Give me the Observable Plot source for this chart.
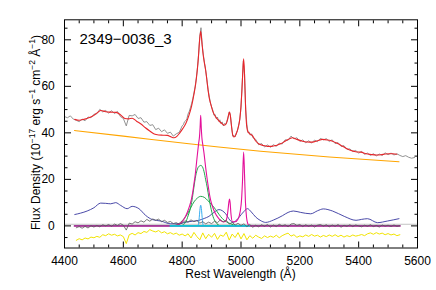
<!DOCTYPE html>
<html><head><meta charset="utf-8">
<script src="https://cdn.jsdelivr.net/npm/d3@7"></script>
<script src="https://cdn.jsdelivr.net/npm/@observablehq/plot@0.6"></script>
<style>body{margin:0;background:#fff} svg{font-family:"Liberation Sans",Arial,sans-serif}</style>
</head><body><div id="chart"></div>
<script>
// ---- data ----
const title = "2349−0036_3";
const xMajor = [4400, 4600, 4800, 5000, 5200, 5400, 5600];
const xMinor = [4450,4500,4550,4650,4700,4750,4850,4900,4950,5050,5100,5150,5250,5300,5350,5450,5500,5550];
const yMajor = [0, 20, 40, 60, 80];
const yMinor = [-5,5,10,15,25,30,35,45,50,55,65,70,75,85];

// observed spectrum (three sampling segments)
const specA = {start: 4400, step: 10, flux: [47.0,46.5,47.3,45.9,45.4,44.8,45.9,45.2,46.8,46.5,48.0,48.2,50.1,49.0,49.6,48.5,49.5,48.3,49.2,47.0,46.2,43.0,47.5,47.3,47.9,46.2,46.5,44.6,44.8,43.2,43.5,41.4,42.0,40.5,41.3,39.8,40.3,38.6,39.6,40.2]};
const specB = {start: 4800, step: 4, flux: [43.0,43.5,44.8,45.2,46.0,48.1,49.2,50.8,52.5,54.6,57.2,59.8,63.5,68.0,74.0,81.5,85.2,78.0,73.5,70.0,66.8,63.0,58.6,55.8,52.8,51.2,49.8,47.6,47.9,46.2,46.8,45.0,45.6,44.0,44.7,43.0,44.0,43.6,45.0,46.8,49.0,47.5,42.8,38.6,38.9,38.3,40.0,41.0,43.3,45.8,51.0,61.0,71.0,65.5,50.0,43.5,40.0,40.3,39.0,39.6]};
const specC = {start: 5040, step: 10, flux: [38.0,37.2,34.9,35.4,33.9,34.8,33.8,34.9,34.2,35.6,35.2,37.0,36.8,38.6,37.4,37.9,36.3,37.0,35.7,36.6,35.6,36.9,36.2,37.6,37.0,37.5,36.3,37.0,35.4,35.8,34.2,34.5,32.9,33.1,32.0,32.4,31.3,32.0,30.8,31.3,30.3,31.0,30.1,30.9,30.3,31.4,30.6,31.3,30.5,31.0,30.3,29.8,30.2,29.5,29.1,29.4]};

// total model
const fitLambda = [4435,4450,4466,4485,4500,4512,4524,4540,4557,4575,4590,4605,4618,4630,4645,4660,4675,4690,4705,4720,4735,4750,4762,4772,4782,4792,4802,4812,4823,4832,4840,4846,4851,4855,4859,4863,4867,4871,4875,4880,4886,4892,4897,4905,4914,4924,4935,4943,4950,4955,4958,4961,4964,4968,4972,4976,4983,4990,4996,5000,5003,5006,5009,5012,5015,5018,5022,5028,5038,5050,5060,5075,5090,5105,5120,5135,5150,5165,5175,5190,5209,5225,5243,5260,5277,5295,5311,5325,5340,5357,5374,5390,5408,5425,5442,5460,5476,5490,5504,5516,5530];
const fitFlux = [45.8,45.4,45.8,46.6,47.5,48.7,49.6,49.1,48.9,48.8,47.8,46.2,46.0,46.3,45.0,43.8,42.2,40.8,39.5,39.1,39.0,38.9,38.3,37.9,38.5,40.0,41.8,43.9,47.5,51.5,56.5,61.1,66.5,72.0,79.5,83.7,79.0,74.0,70.5,66.8,60.5,55.0,52.5,49.0,46.8,45.3,44.0,43.3,44.0,46.0,47.8,48.9,47.2,42.5,39.0,38.2,39.3,42.0,46.0,51.5,58.0,66.0,71.8,65.0,53.0,45.0,41.0,39.8,38.9,36.5,35.3,34.6,34.2,34.2,34.6,35.3,36.4,37.5,37.9,37.2,36.4,36.1,36.0,36.6,37.2,36.9,36.4,35.6,34.6,33.4,32.4,31.9,31.7,31.0,30.7,30.5,30.6,30.9,31.0,31.0,30.8];

// power-law continuum
const contLambda = [4434, 4600, 4823, 4924, 5067, 5300, 5537];
const contFlux = [41.0, 38.6, 35.3, 33.9, 32.1, 29.6, 27.6];

// Fe II template
const feLambda = [4435,4455,4477,4500,4523,4540,4557,4574,4591,4613,4630,4653,4676,4699,4727,4761,4790,4812,4835,4857,4875,4891,4910,4925,4948,4962,4973,4985,5005,5022,5035,5050,5065,5084,5110,5141,5160,5178,5203,5237,5260,5280,5311,5351,5391,5410,5430,5464,5498,5537];
const feFlux = [4.9,5.5,6.4,7.8,9.8,9.7,9.5,10.0,8.8,7.4,8.4,7.4,4.5,2.7,2.1,0.9,0.9,1.6,2.0,2.4,3.2,4.1,6.0,7.0,5.2,2.5,1.5,2.5,5.5,7.4,6.0,3.8,2.4,1.5,2.5,4.4,5.8,6.4,5.8,5.2,6.5,7.3,6.4,4.1,2.4,2.8,3.1,1.4,2.1,3.1];

// emission line model (H-beta + [O III])
const lineLambda = [4435,4750,4765,4780,4790,4800,4809,4818,4825,4831,4836,4840,4844,4847,4852,4856,4859,4861,4863,4865,4867,4870,4874,4880,4884,4888,4893,4897,4904,4912,4924,4937,4946,4952,4956,4959,4961,4963,4966,4971,4980,4990,4997,5002,5005,5009,5012,5015,5019,5023,5027,5030,5540];
const lineFlux = [0,0,0.1,0.3,0.8,1.8,3.5,6.0,8.5,11.2,14.5,18.0,21.5,25.0,31.0,35.5,38.5,42.5,47.5,42.0,38.0,35.0,31.5,25.0,21.0,17.5,13.5,11.0,8.0,5.5,3.2,1.8,1.8,3.5,7.0,10.5,11.5,10.0,5.0,1.8,1.8,3.0,6.0,11.5,19.0,31.8,22.0,10.5,3.5,1.0,0.2,0,0];

// broad H-beta components
const broad1Lambda = [4795,4805,4812,4820,4829,4835,4840,4846,4852,4858,4863,4868,4874,4880,4885,4891,4897,4905,4914,4922,4932];
const broad1Flux = [0,0.6,1.6,4.3,8.1,12.3,16.7,21.5,24.5,25.7,26.0,25.6,23.5,19.8,16.7,12.0,8.1,4.0,1.6,0.5,0];
const broad2Lambda = [4760,4778,4795,4807,4818,4830,4840,4852,4863,4875,4888,4900,4914,4925,4937,4950,4965,4985];
const broad2Flux = [0,0.3,1.6,3.2,5.2,8.0,10.3,12.0,12.7,12.3,10.8,9.2,7.0,5.0,3.1,1.8,0.9,0];

// narrow H-beta
const narrowLambda = [4760,4853,4856,4858,4860,4863,4866,4868,4870,4873,5027];
const narrowFlux = [0,0,1.2,3.5,6.5,8.9,6.5,3.5,1.2,0,0];
const zeroCyanLambda = [4760, 5027];
const zeroCyanFlux = [0, 0];
const zeroPurpleLambda = [4434, 5540];
const zeroPurpleFlux = [0, 0];
const refLevel = [0.7];

// residuals and error spectrum (4440..5540, 10 A)
const residStart = 4440, residStep = 10;
const residFlux = [-0.8,-0.3,-1.0,-0.2,-0.9,0.1,-0.5,
 0.2,-0.4,0.5,0.0,0.6,-0.2,0.8,0.2,1.0,0.3,
 -1.8,
 1.2,0.8,1.8,1.3,2.2,1.6,2.8,2.0,3.0,
 2.4,2.9,1.8,2.4,1.5,1.9,1.0,1.4,0.7,1.3,
 2.2,1.6,2.6,1.8,2.3,1.2,1.8,0.9,1.6,1.0,
 2.0,1.4,2.6,1.7,2.4,0.8,1.5,0.4,1.1,0.2,
 0.9,-0.3,0.6,-0.6,0.3,-0.4,0.5,-0.2,0.6,-0.5,
 0.4,-0.3,0.7,0.0,0.5,-0.4,0.8,1.0,0.2,0.6,
 -0.3,0.5,-0.2,0.4,-0.5,0.3,0.6,-0.1,0.5,-0.4,
 0.4,-0.2,0.6,-0.6,0.3,-0.2,0.5,-0.3,0.4,0.0,
 -0.4,0.3,-0.2,0.5,-0.3,0.2,-0.5,0.4,-0.1,0.3,
 -0.3,0.4,-0.2,0.1];
const errFlux = [-6.2,-5.5,-6.0,-5.2,-5.6,-4.8,-5.1,
 -4.5,-4.9,-3.8,-4.2,-3.4,-4.0,-3.6,-4.3,-3.9,-4.6,
 -7.6,
 -3.8,-3.2,-3.9,-2.9,-3.3,-2.4,-2.8,-1.6,-2.2,
 -2.6,-2.0,-3.0,-2.5,-3.4,-2.9,-3.6,-3.1,-4.0,-3.5,
 -4.3,-3.4,-5.2,-2.8,-4.6,-6.0,-3.0,-5.5,-3.6,-4.9,
 -3.2,-5.8,-3.9,-4.5,-2.7,-6.1,-3.5,-5.0,-2.9,-5.6,
 -3.3,-6.0,-4.2,-5.3,-4.0,-4.8,-5.4,-4.3,-5.0,-4.4,
 -4.9,-4.0,-5.1,-4.2,-3.6,-3.1,-4.4,-3.8,-4.9,-4.3,
 -4.7,-3.9,-4.5,-3.7,-4.4,-4.0,-4.8,-4.1,-4.6,-3.9,
 -4.5,-3.8,-4.6,-4.0,-4.8,-4.2,-4.6,-3.9,-4.4,-4.1,
 -3.7,-4.2,-3.4,-3.0,-3.6,-2.9,-3.5,-3.1,-3.8,-3.3,
 -3.9,-3.5,-4.2,-3.8];

// ---- build tables ----
const pairs = (xs, ys) => xs.map((x, i) => ({x, y: ys[i]}));
const sampled = (s) => s.flux.map((y, i) => ({x: s.start + s.step * i, y}));
const spec = [...sampled(specA), ...sampled(specB), ...sampled(specC)];
const resid = sampled({start: residStart, step: residStep, flux: residFlux});
const err = sampled({start: residStart, step: residStep, flux: errFlux});
const smooth = "monotone-x";

const plot = Plot.plot({
  width: 436, height: 290,
  marginLeft: 64, marginRight: 19, marginTop: 19.3, marginBottom: 42.5,
  x: {domain: [4400, 5600]},
  y: {domain: [-9.5, 88.6]},
  style: {fontFamily: "Liberation Sans, Arial, sans-serif", fontSize: "12px", background: "#fff", color: "#000"},
  marks: [
    Plot.ruleY(refLevel, {stroke: "#c4c4c4", strokeWidth: 1}),
    Plot.line(spec, {x: "x", y: "y", stroke: "#787878", strokeWidth: 0.8}),
    Plot.line(pairs(fitLambda, fitFlux), {x: "x", y: "y", stroke: "#e8262b", strokeWidth: 1.1, curve: smooth}),
    Plot.line(pairs(contLambda, contFlux), {x: "x", y: "y", stroke: "#ffa500", strokeWidth: 1.1, curve: smooth}),
    Plot.line(pairs(feLambda, feFlux), {x: "x", y: "y", stroke: "#35359e", strokeWidth: 0.9, curve: smooth}),
    Plot.line(pairs(broad2Lambda, broad2Flux), {x: "x", y: "y", stroke: "#1fa64c", strokeWidth: 1, curve: smooth}),
    Plot.line(pairs(broad1Lambda, broad1Flux), {x: "x", y: "y", stroke: "#1fa64c", strokeWidth: 1, curve: smooth}),
    Plot.line(pairs(lineLambda, lineFlux), {x: "x", y: "y", stroke: "#e4109a", strokeWidth: 1.1, curve: smooth}),
    Plot.line(pairs(zeroPurpleLambda, zeroPurpleFlux), {x: "x", y: "y", stroke: "#a03a98", strokeWidth: 1.7}),
    Plot.line(pairs(narrowLambda, narrowFlux), {x: "x", y: "y", stroke: "#3aaef0", strokeWidth: 1, curve: smooth}),
    Plot.line(pairs(zeroCyanLambda, zeroCyanFlux), {x: "x", y: "y", stroke: "#10c4d4", strokeWidth: 1.8}),
    Plot.line(resid, {x: "x", y: "y", stroke: "#585858", strokeWidth: 0.8}),
    Plot.line(err, {x: "x", y: "y", stroke: "#f2e400", strokeWidth: 1}),
    Plot.frame({stroke: "#000", strokeWidth: 1}),
    Plot.axisX({anchor: "bottom", ticks: xMajor, tickSize: -6, tickPadding: 14.8, tickFormat: d => String(d), label: null, fontSize: 12}),
    Plot.axisX({anchor: "bottom", ticks: xMinor, tickSize: -3, tickFormat: () => "", label: null}),
    Plot.axisX({anchor: "top", ticks: xMajor, tickSize: -6, tickFormat: () => "", label: null}),
    Plot.axisX({anchor: "top", ticks: xMinor, tickSize: -3, tickFormat: () => "", label: null}),
    Plot.axisY({anchor: "left", ticks: yMajor, tickSize: -7, tickPadding: 16.7, tickFormat: d => String(d), label: null, fontSize: 12}),
    Plot.axisY({anchor: "left", ticks: yMinor, tickSize: -3.5, tickFormat: () => "", label: null}),
    Plot.axisY({anchor: "right", ticks: yMajor, tickSize: -7, tickFormat: () => "", label: null}),
    Plot.axisY({anchor: "right", ticks: yMinor, tickSize: -3.5, tickFormat: () => "", label: null}),
    Plot.text([title], {text: d => d, frameAnchor: "top-left", dx: 15, dy: 14, textAnchor: "start", lineAnchor: "top", fontSize: 15})
  ]
});
document.getElementById("chart").appendChild(plot);

const svg = d3.select(plot);
svg.append("text").attr("x", 240.5).attr("y", 278).attr("text-anchor", "middle")
  .attr("font-size", 12).attr("fill", "#000").text("Rest Wavelength (Å)");
const yParts = [["Flux Density (10", false], ["−17", true], [" erg s", false], ["−1", true], [" cm", false], ["−2", true], [" Å", false], ["−1", true], [")", false]];
const yl = svg.append("text").attr("transform", "translate(39.5,132.5) rotate(-90)")
  .attr("text-anchor", "middle").attr("font-size", 12).attr("fill", "#000");
let raised = false;
for (const [t, sup] of yParts) {
  const ts = yl.append("tspan").text(t);
  if (sup && !raised) { ts.attr("dy", -4.5).attr("font-size", 8.5); raised = true; }
  else if (sup) { ts.attr("font-size", 8.5); }
  else if (raised) { ts.attr("dy", 4.5); raised = false; }
}
</script>
</body></html>
